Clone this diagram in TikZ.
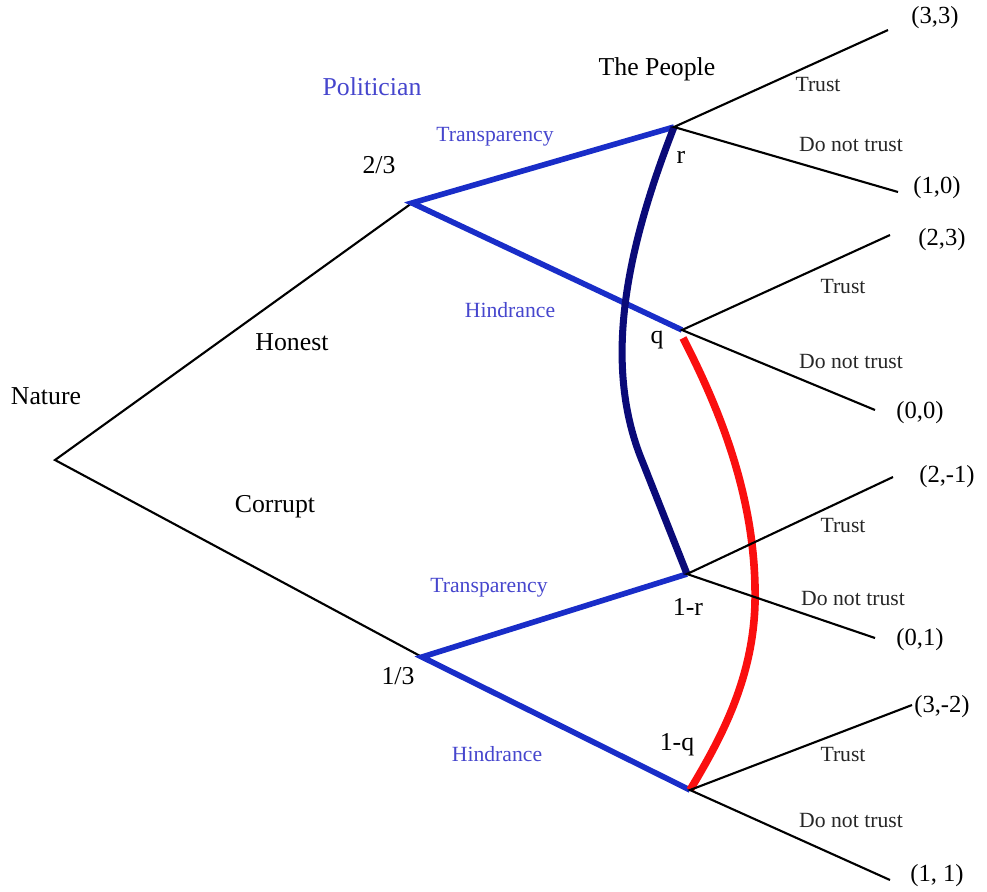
\documentclass[tikz,border=0pt]{standalone}
\usepackage{fontspec}
\setmainfont{Liberation Serif}
\usetikzlibrary{calc}
\definecolor{movblue}{RGB}{25,45,200}
\definecolor{txtblue}{RGB}{70,70,205}
\definecolor{setnavy}{RGB}{10,10,120}
\definecolor{setred}{RGB}{250,15,15}

\tikzset{
  branch/.style={line width=1.8pt, black},
  move/.style={line width=4.8pt, movblue},
  big/.style={inner sep=0pt, font=\fontsize{22}{24}\selectfont},
  small/.style={inner sep=0pt, text=black!85, font=\fontsize{18.5}{20}\selectfont},
  act/.style={inner sep=0pt, text=txtblue, font=\fontsize{18.5}{20}\selectfont},
  pay/.style={inner sep=0pt, font=\fontsize{21}{24}\selectfont},
}

\begin{document}
\begin{tikzpicture}[x=0.03cm, y=-0.03cm]
\useasboundingbox (0,0) rectangle (987,891);

\coordinate (nat) at (55,460);
\coordinate (hon) at (412,203);
\coordinate (cor) at (422,657);
\coordinate (hT) at (674,127);   % honest, transparency
\coordinate (hH) at (682,330);   % honest, hindrance
\coordinate (cT) at (687,574);   % corrupt, transparency
\coordinate (cH) at (690,790);   % corrupt, hindrance

\coordinate (e1) at (888,30);
\coordinate (e2) at (898,192);
\coordinate (e3) at (890,235);
\coordinate (e4) at (875,410);
\coordinate (e5) at (893,477);
\coordinate (e6) at (875,638);
\coordinate (e7) at (912,705);
\coordinate (e8) at (890,880);

% nature
\draw[branch] (hon) -- (nat) -- (cor);

% politician
\draw[move] (hT) -- (hon) -- (hH);
\draw[move] (cT) -- (cor) -- (cH);

% information sets
\draw[setnavy, line width=6pt] (hT) .. controls (626,250) and (602,365) .. (643,463) -- (cT);
\draw[setred, line width=6.5pt] (683,338) .. controls (720,410) and (757,500) .. (755,603)
  .. controls (753,680) and (720,740) .. (cH);

% people
\draw[branch] (e1) -- (hT) -- (e2);
\draw[branch] (e3) -- (hH) -- (e4);
\draw[branch] (e5) -- (cT) -- (e6);
\draw[branch] (e7) -- (cH) -- (e8);

\node[big] (nature) at (46,396) {Nature};
\node[big] (honest) at (292,342) {Honest};
\node[big] (corrupt) at (275,507) {Corrupt};
\node[big, text=txtblue] (polit) at (372,87) {Politician};
\node[big] (people) at (657,69) {The People};
\node[big] (ptwo) at (379,165) {2/3};
\node[big] (pone) at (398,676) {1/3};

\node[act] (tr1) at (495,137) {Transparency};
\node[act] (hi1) at (510,310) {Hindrance};
\node[act] (tr2) at (489,588) {Transparency};
\node[act] (hi2) at (497,754) {Hindrance};

\node[big] (br) at (681,157) {r};
\node[big] (bq) at (657,340) {q};
\node[big] (bnr) at (688,607) {1-r};
\node[big] (bnq) at (677,745) {1-q};

\node[small] (t1) at (818,85) {Trust};
\node[small] (n1) at (851,145) {Do not trust};
\node[small] (t2) at (843,287) {Trust};
\node[small] (n2) at (851,362) {Do not trust};
\node[small] (t3) at (843,525) {Trust};
\node[small] (n3) at (853,598) {Do not trust};
\node[small] (t4) at (843,754) {Trust};
\node[small] (n4) at (851,820) {Do not trust};

\node[pay] (p1) at (935,18) {(3,3)};
\node[pay] (p2) at (937,188) {(1,0)};
\node[pay] (p3) at (942,240) {(2,3)};
\node[pay] (p4) at (920,413) {(0,0)};
\node[pay] (p5) at (947,477) {(2,-1)};
\node[pay] (p6) at (920,640) {(0,1)};
\node[pay] (p7) at (942,707) {(3,-2)};
\node[pay] (p8) at (937,876) {(1, 1)};

\end{tikzpicture}
\end{document}
